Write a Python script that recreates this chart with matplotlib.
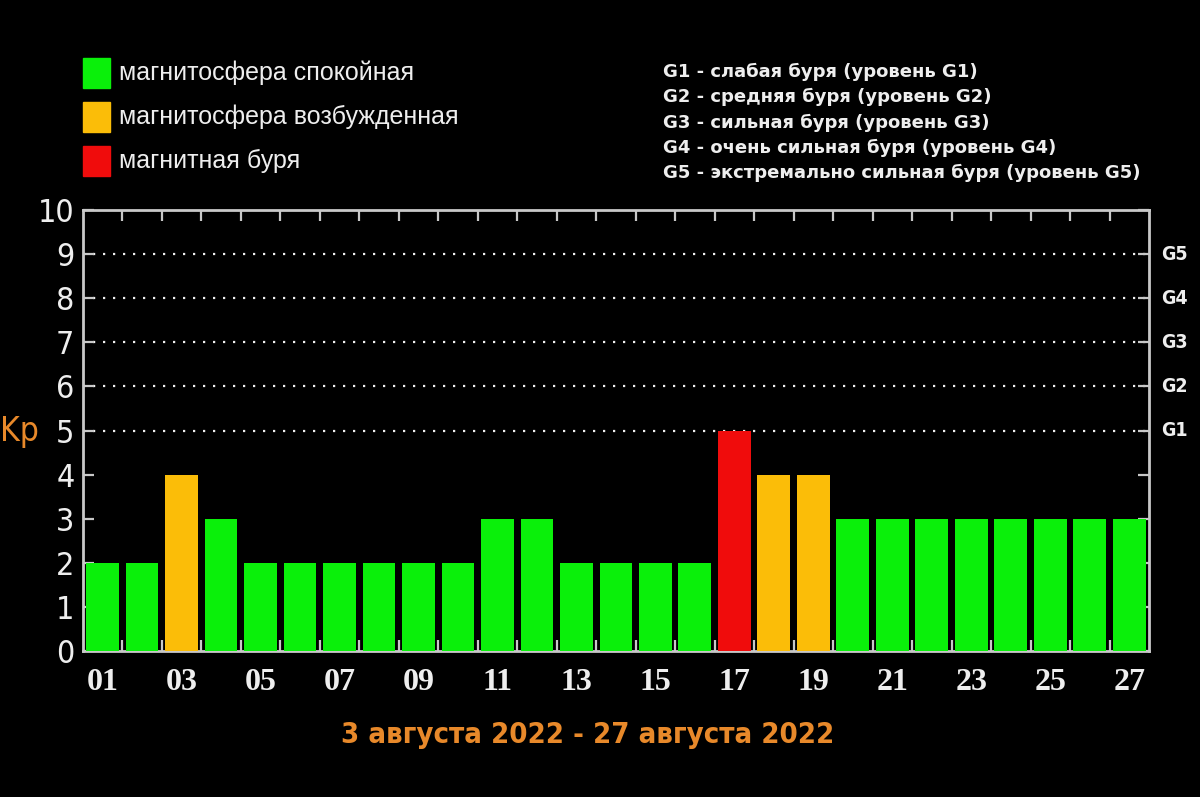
import matplotlib
matplotlib.use("Agg")
import matplotlib.pyplot as plt
from matplotlib.patches import Rectangle

# Kp index per day, August 2022
days = ["01", "02", "03", "04", "05", "06", "07", "08", "09", "10", "11", "12", "13", "14",
        "15", "16", "17", "18", "19", "20", "21", "22", "23", "24", "25", "26", "27"]
kp = [2, 2, 4, 3, 2, 2, 2, 2, 2, 2, 3, 3, 2, 2, 2, 2, 5, 4, 4, 3, 3, 3, 3, 3, 3, 3, 3]
state = ["q", "q", "a", "q", "q", "q", "q", "q", "q", "q", "q", "q", "q", "q",
         "q", "q", "s", "a", "a", "q", "q", "q", "q", "q", "q", "q", "q"]

legend_labels = ["магнитосфера спокойная", "магнитосфера возбужденная", "магнитная буря"]
storm_levels = ["G1", "G2", "G3", "G4", "G5"]
storm_kp = [5, 6, 7, 8, 9]
storm_text = [
    "G1 - слабая буря (уровень G1)",
    "G2 - средняя буря (уровень G2)",
    "G3 - сильная буря (уровень G3)",
    "G4 - очень сильная буря (уровень G4)",
    "G5 - экстремально сильная буря (уровень G5)",
]
title = "3 августа 2022 - 27 августа 2022"

colors = {"q": "#0af00a", "a": "#fbbd08", "s": "#f00c0c"}
orange = "#e8892a"
white = "#eeeeee"
spine_col = "#c8c8c8"

fig = plt.figure(figsize=(12, 7.97), dpi=100, facecolor="black")
ax = fig.add_axes([0.069, 0.183, 0.8885, 0.5535], facecolor="black")

x = list(range(len(days)))
ax.bar(x, kp, width=0.83, color=[colors[s] for s in state], zorder=3)

ax.set_xlim(-0.5, len(days) - 0.5)
ax.set_ylim(0, 10)

for sp in ax.spines.values():
    sp.set_color(spine_col)
    sp.set_linewidth(2)

# dotted grid for storm levels
for v in storm_kp:
    ax.axhline(v, color=white, lw=1.6, ls=(0, (1, 3.5)), zorder=1)

# y ticks
ax.set_yticks(range(0, 11))
ax.set_yticklabels([str(i) for i in range(0, 11)], fontfamily="DejaVu Sans",
                   fontstretch="condensed", fontsize=23, color=white)
ax.tick_params(axis="y", which="major", direction="in", length=8, width=1.6,
               color=spine_col, left=True, right=True, pad=6)

# x ticks: labels for odd days, small ticks between bars
ax.set_xticks(x[::2])
ax.set_xticklabels(days[::2], fontfamily="Liberation Serif", fontweight="bold",
                   fontsize=23, color=white)
ax.tick_params(axis="x", which="major", length=0, pad=12)
ax.set_xticks([i + 0.5 for i in x[:-1]], minor=True)
ax.tick_params(axis="x", which="minor", direction="in", length=8, width=1.6,
               color=spine_col, top=True, bottom=True)

# G levels on right
for lab, v in zip(storm_levels, storm_kp):
    ax.text(len(days) - 0.5 + 0.3, v, lab, color=white, fontsize=14,
            fontfamily="DejaVu Sans", fontstretch="condensed", fontweight="bold",
            va="center", ha="left", clip_on=False)

# Kp label and title
fig.text(0.0, 1 - 432 / 797, "Kp", color=orange, fontsize=24,
         fontfamily="DejaVu Sans", fontstretch="condensed", va="center", ha="left")
fig.text(588 / 1200, 1 - 735 / 797, title, color=orange, fontsize=21, fontweight="bold",
         fontfamily="DejaVu Sans", fontstretch="condensed", va="center", ha="center")

# color legend
leg_y = [73, 117, 161]
for lab, key, yy in zip(legend_labels, ["q", "a", "s"], leg_y):
    fig.patches.append(Rectangle((83 / 1200, 1 - (yy + 15) / 797), 27 / 1200, 30 / 797,
                                 transform=fig.transFigure, color=colors[key]))
    fig.text(119 / 1200, 1 - yy / 797, lab, color=white, fontsize=18,
             fontfamily="Liberation Sans", va="center", ha="left")

# storm level legend
for i, t in enumerate(storm_text):
    fig.text(663 / 1200, 1 - (72 + 25.3 * i) / 797, t, color=white, fontsize=13,
             fontfamily="DejaVu Sans", fontweight="bold", va="center", ha="left")

fig.savefig("out.png", dpi=100, facecolor="black")
